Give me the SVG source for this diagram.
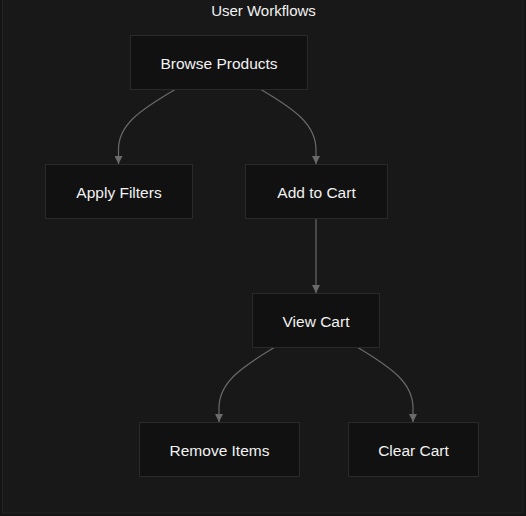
<svg xmlns="http://www.w3.org/2000/svg" width="526" height="516" viewBox="0 0 526 516">
<defs>
<style>
.node rect{fill:#111111;stroke:#2a2a2a;stroke-width:1}
.node text{fill:#f2f2f2;font-family:"Liberation Sans",Arial,sans-serif;font-size:15.5px;text-anchor:middle}
.edge{fill:none;stroke:#6a6a6a;stroke-width:1.2}
.title{fill:#f2f2f2;font-family:"Liberation Sans",Arial,sans-serif;font-size:15px;text-anchor:middle}
</style>
<marker id="arr" viewBox="0 0 10 10" refX="10" refY="5" markerWidth="8" markerHeight="8" markerUnits="userSpaceOnUse" orient="auto">
<path d="M0,0 L10,5 L0,10 z" fill="#6a6a6a"/>
</marker>
</defs>
<rect x="0" y="0" width="526" height="516" fill="#141414"/>
<rect x="2.5" y="-5" width="520.5" height="518" fill="#181818" stroke="#232323" stroke-width="1"/>
<text class="title" x="263.5" y="16">User Workflows</text>
<g id="connectors">
<path class="edge" marker-end="url(#arr)" d="M176,89 C140,110 118,125 118.5,150 L118.5,164"/>
<path class="edge" marker-end="url(#arr)" d="M260,89 C296,110 316,125 316,150 L316,164"/>
<path class="edge" marker-end="url(#arr)" d="M316,218 L316,293"/>
<path class="edge" marker-end="url(#arr)" d="M275,347 C240,368 219,383 219,408 L219,422"/>
<path class="edge" marker-end="url(#arr)" d="M357,347 C392,368 413,383 413,408 L413,422"/>
</g>
<g id="browse" class="node"><rect x="130.5" y="35.5" width="177" height="54"/><text x="219" y="69">Browse Products</text></g>
<g id="filters" class="node"><rect x="45.5" y="164.5" width="147" height="54"/><text x="119" y="198">Apply Filters</text></g>
<g id="addcart" class="node"><rect x="245.5" y="164.5" width="142" height="54"/><text x="316.5" y="198">Add to Cart</text></g>
<g id="viewcart" class="node"><rect x="252.5" y="293.5" width="127" height="54"/><text x="316" y="327">View Cart</text></g>
<g id="remove" class="node"><rect x="139.5" y="422.5" width="160" height="54"/><text x="219.5" y="456">Remove Items</text></g>
<g id="clear" class="node"><rect x="348.5" y="422.5" width="130" height="54"/><text x="413.5" y="456">Clear Cart</text></g>
</svg>
